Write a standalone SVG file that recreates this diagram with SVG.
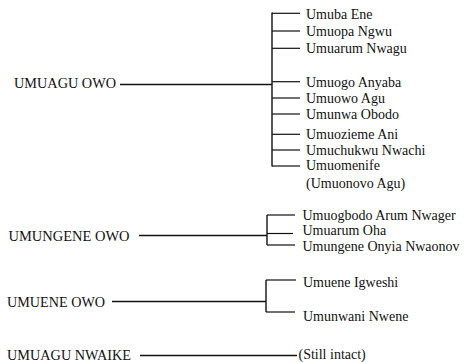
<svg xmlns="http://www.w3.org/2000/svg" width="473" height="362" viewBox="0 0 473 362">
<style>
  .t { font-family: 'Liberation Serif', 'Times New Roman', Times, serif; font-size: 14px; fill: #111; }
  .p { font-family: 'Liberation Serif', 'Times New Roman', Times, serif; font-size: 14.5px; fill: #111; }
  .c line { stroke: #111; stroke-width: 1.4; fill: none; }
  .c .b { stroke-width: 1.2; }
</style>
<rect width="473" height="362" fill="#fff"/>
<g class="c" id="connectors">
  <line x1="120" y1="84.5" x2="272" y2="84.5"/>
  <line x1="272" y1="12.5" x2="272" y2="166.5"/>
  <line class="b" x1="272" y1="13.3" x2="300" y2="13.3"/>
  <line class="b" x1="272" y1="31" x2="300" y2="31"/>
  <line class="b" x1="272" y1="48.3" x2="300" y2="48.3"/>
  <line class="b" x1="272" y1="81.7" x2="300" y2="81.7"/>
  <line class="b" x1="272" y1="98" x2="300" y2="98"/>
  <line class="b" x1="272" y1="114" x2="300" y2="114"/>
  <line class="b" x1="272" y1="134.3" x2="300" y2="134.3"/>
  <line class="b" x1="272" y1="150" x2="300" y2="150"/>
  <line class="b" x1="272" y1="166" x2="300" y2="166"/>

  <line x1="139" y1="235.5" x2="267" y2="235.5"/>
  <line x1="267" y1="215" x2="267" y2="245"/>
  <line class="b" x1="267" y1="215" x2="295" y2="215"/>
  <line class="b" x1="267" y1="233.5" x2="293" y2="233.5"/>
  <line class="b" x1="267" y1="245" x2="295" y2="245"/>

  <line x1="112" y1="301.5" x2="266" y2="301.5"/>
  <line x1="266" y1="280" x2="266" y2="312"/>
  <line class="b" x1="266" y1="280" x2="296" y2="280"/>
  <line class="b" x1="266" y1="312" x2="295" y2="312"/>

  <line x1="140" y1="355.5" x2="297" y2="355.5"/>
</g>
<g id="umuagu-owo" class="p">
  <text x="14" y="88" textLength="102" lengthAdjust="spacingAndGlyphs">UMUAGU OWO</text>
</g>
<g id="umuagu-owo-children" class="t">
  <text x="306" y="19">Umuba Ene</text>
  <text x="306" y="36">Umuopa Ngwu</text>
  <text x="306" y="53.3">Umuarum Nwagu</text>
  <text x="306" y="86.5">Umuogo Anyaba</text>
  <text x="306" y="102.5">Umuowo Agu</text>
  <text x="306" y="118.5">Umunwa Obodo</text>
  <text x="306" y="138.5">Umuozieme Ani</text>
  <text x="306" y="155">Umuchukwu Nwachi</text>
  <text x="306" y="170">Umuomenife</text>
  <text x="306" y="188">(Umuonovo Agu)</text>
</g>
<g id="umungene-owo" class="p">
  <text x="8.5" y="241" textLength="121" lengthAdjust="spacingAndGlyphs">UMUNGENE OWO</text>
</g>
<g id="umungene-owo-children" class="t">
  <text x="302.5" y="220">Umuogbodo Arum Nwager</text>
  <text x="302.5" y="235">Umuarum Oha</text>
  <text x="302.5" y="250.5">Umungene Onyia Nwaonov</text>
</g>
<g id="umuene-owo" class="p">
  <text x="7" y="306.5" textLength="98" lengthAdjust="spacingAndGlyphs">UMUENE OWO</text>
</g>
<g id="umuene-owo-children" class="t">
  <text x="303" y="287">Umuene Igweshi</text>
  <text x="303" y="321">Umunwani Nwene</text>
</g>
<g id="umuagu-nwaike" class="p">
  <text x="7" y="359.5" textLength="124" lengthAdjust="spacingAndGlyphs">UMUAGU NWAIKE</text>
</g>
<g id="umuagu-nwaike-child" class="t">
  <text x="298.5" y="358.5">(Still intact)</text>
</g>
</svg>
